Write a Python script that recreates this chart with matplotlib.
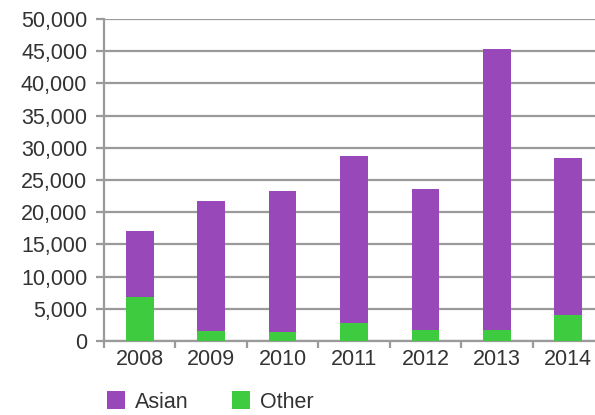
import numpy as np
import matplotlib.pyplot as plt
from matplotlib.ticker import FuncFormatter

years = ['2008', '2009', '2010', '2011', '2012', '2013', '2014']
other = [6900, 1550, 1450, 2800, 1650, 1700, 4000]
total = [17150, 21800, 23250, 28800, 23650, 45400, 28400]
asian = [t - o for t, o in zip(total, other)]

purple = '#9848B9'
green = '#3FCB3F'
grey = '#9a9a9a'
txt = '#333333'

plt.rcParams['font.family'] = ['Liberation Sans', 'DejaVu Sans']
plt.rcParams['font.size'] = 15.5

fig = plt.figure(figsize=(5.95, 4.15), dpi=100)
ax = fig.add_axes([104 / 595, 74 / 415, 500 / 595, 322 / 415])

x = np.arange(len(years))
ax.bar(x, other, width=0.39, color=green, label='Other', zorder=3)
ax.bar(x, asian, width=0.39, bottom=other, color=purple, label='Asian', zorder=3)

ax.set_ylim(0, 50000)
ax.set_yticks(np.arange(0, 50001, 5000))
ax.yaxis.set_major_formatter(FuncFormatter(lambda v, p: '{:,.0f}'.format(v)))
ax.set_xlim(-0.5, 6.5)
ax.set_xticks(x)
ax.set_xticklabels(years)
ax.set_xticks(np.arange(-0.5, 7, 1), minor=True)

ax.grid(axis='y', color=grey, linewidth=1.6, zorder=0)
for s in ['top', 'right']:
    ax.spines[s].set_visible(False)
for s in ['left', 'bottom']:
    ax.spines[s].set_color(grey)
    ax.spines[s].set_linewidth(1.6)

ax.tick_params(axis='y', colors=grey, labelcolor=txt, length=6, width=1.6, pad=6)
ax.tick_params(axis='x', which='major', length=0, labelcolor=txt, pad=6)
ax.tick_params(axis='x', which='minor', length=5, width=1.6, colors=grey)

h, l = ax.get_legend_handles_labels()
fig.legend(h[::-1], l[::-1], loc='center left', bbox_to_anchor=(107 / 595, 13 / 415),
           ncol=2, frameon=False, borderpad=0, borderaxespad=0,
           handlelength=0.85, handleheight=0.85, handletextpad=0.45,
           columnspacing=2.0, labelcolor=txt)

plt.savefig('out.png', dpi=100)
